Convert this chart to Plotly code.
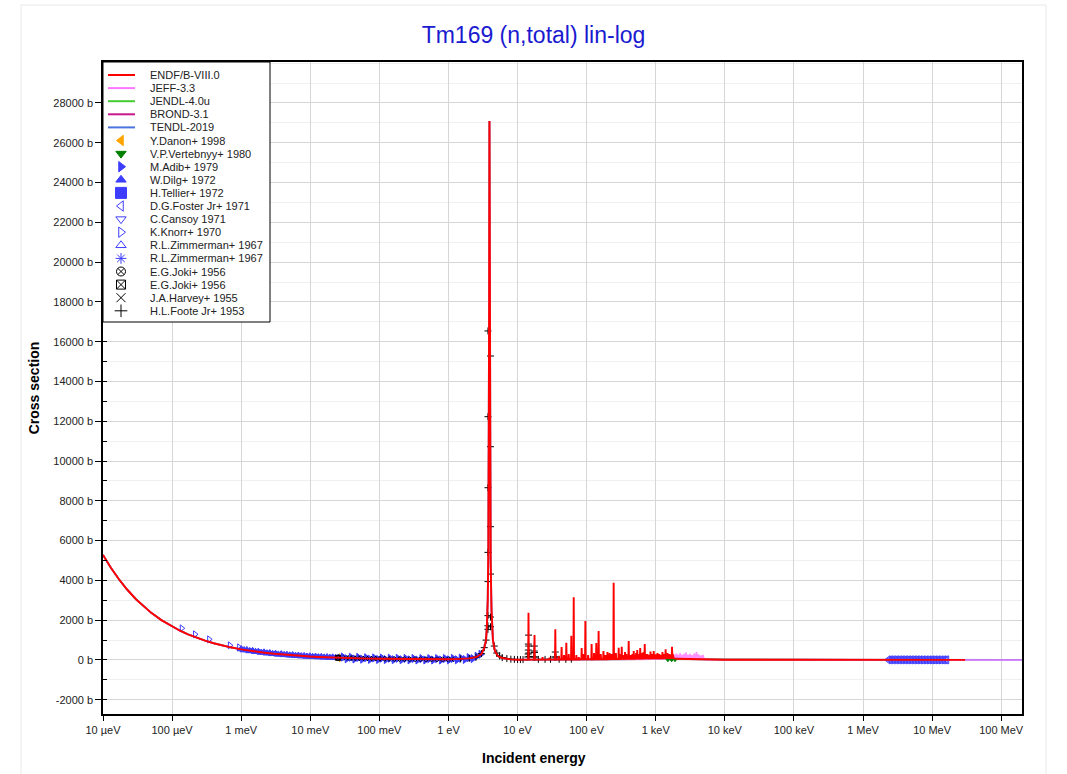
import plotly.graph_objects as go

# ---------------- evaluated libraries (energy in eV, cross section in b) ----------------
# thermal 1/v part and the big 3.9 eV resonance (all libraries coincide there)
thermal_e = [1e-5, 1.3e-5, 1.7e-5, 2.2e-5, 3e-5, 4e-5, 5e-5, 7e-5,
             1e-4, 1.3e-4, 1.7e-4, 2.2e-4, 3e-4, 4e-4, 5e-4, 7e-4,
             1e-3, 1.3e-3, 1.7e-3, 2.2e-3, 3e-3, 4e-3, 5e-3, 7e-3,
             1e-2, 1.3e-2, 1.7e-2, 2.2e-2, 3e-2, 4e-2, 5e-2, 7e-2,
             0.1, 0.2, 0.3, 0.5, 0.7, 1.0, 1.5, 2.0, 2.5, 3.0]
thermal_xs = [5280, 4640, 4058, 3568, 3056, 2648, 2369, 2003,
              1677, 1472, 1288, 1133, 971, 842, 754, 638,
              535, 470, 412, 363, 312, 271, 243, 207,
              174, 153, 135, 120, 103, 91, 82, 70,
              60, 44, 38, 33, 32, 40, 55, 80, 140, 300]

peak_e = [3.3, 3.5, 3.6, 3.7, 3.78, 3.84, 3.88, 3.92, 3.96, 4.0, 4.08, 4.2, 4.4, 4.7,
          5.2, 6.0, 8.0, 10.0, 13.0]
peak_xs = [600, 1000, 1700, 3000, 5500, 10000, 18000, 27100, 18000, 10000, 5000, 2500, 1000, 450,
           200, 100, 30, 15, 12]

# ENDF/B-VIII.0 resolved resonances 14 eV - 1.8 keV
endf_res_e = [
    14.26, 14.4, 14.54, 17.42, 17.6, 17.78, 22.8, 23.0, 23.2, 28.7, 29.0, 29.3,
    34.85, 35.2, 35.55, 39.1, 39.5, 39.9, 42.97, 43.4, 43.83, 46.5, 47.0, 47.5,
    50.3, 50.8, 51.3, 54.5, 55.0, 55.5, 59.4, 60.0, 60.6, 64.35, 65.0, 65.65,
    70.3, 71.0, 71.7, 76.2, 77.0, 77.8, 83.9, 84.7, 85.5, 89.1, 90.0, 90.9,
    94.9, 95.8, 96.7, 104.0, 105.0, 106.0, 116.8, 118.0, 119.2, 126.7, 128.0, 129.3,
    136.6, 138.0, 139.4, 147.5, 149.0, 150.5, 158.4, 160.0, 161.6, 173.3, 175.0, 176.7,
    185.1, 187.0, 188.9, 198.0, 200.0, 202.0, 212.9, 215.0, 217.1, 227.7, 230.0, 232.3,
    243.5, 246.0, 248.5, 262.4, 265.0, 267.6, 288.1, 291.0, 293.9, 302.0, 305.0, 308.0,
    318.8, 322.0, 325.2, 341.6, 345.0, 348.4, 356.4, 360.0, 363.6, 372.2, 376.0, 379.8,
    401.9, 406.0, 410.1, 425.7, 430.0, 434.3, 455.4, 460.0, 464.6, 475.2, 480.0, 484.8,
    495.0, 500.0, 505.0, 514.8, 520.0, 525.2, 534.6, 540.0, 545.4, 559.4, 565.0, 570.6,
    590.0, 596.0, 602.0, 608.9, 615.0, 621.2, 633.6, 640.0, 646.4, 658.4, 665.0, 671.7,
    686.1, 693.0, 699.9, 712.8, 720.0, 727.2, 752.4, 760.0, 767.6, 792.0, 800.0, 808.0,
    831.6, 840.0, 848.4, 871.2, 880.0, 888.8, 925.7, 935.0, 944.4, 990.0, 1000.0, 1010.0,
    1049.4, 1060.0, 1070.6, 1118.7, 1130.0, 1141.3, 1188.0, 1200.0, 1212.0, 1237.5, 1250.0, 1262.5,
    1287.0, 1300.0, 1313.0, 1376.1, 1390.0, 1403.9, 1425.6, 1440.0, 1454.4, 1465.2, 1480.0, 1494.8,
    1514.7, 1530.0, 1545.3, 1564.2, 1580.0, 1595.8, 1633.5, 1650.0, 1666.5, 1702.8, 1720.0, 1737.2,
    1742.4, 1760.0, 1777.6, 1782.0, 1800.0, 1818.0]
endf_res_xs = [
    20, 2370, 20, 20, 1250, 20, 20, 150, 20, 20, 120, 20,
    20, 1540, 20, 20, 200, 20, 20, 650, 20, 20, 250, 20,
    20, 870, 20, 25, 300, 25, 25, 1220, 25, 25, 3150, 25,
    25, 250, 25, 25, 150, 25, 30, 600, 30, 30, 300, 30,
    30, 1960, 30, 30, 250, 30, 30, 800, 30, 35, 350, 35,
    35, 850, 35, 35, 1460, 35, 40, 300, 40, 40, 450, 40,
    40, 250, 40, 40, 400, 40, 45, 350, 45, 45, 300, 45,
    45, 3880, 45, 50, 350, 50, 50, 620, 50, 50, 300, 50,
    55, 670, 55, 55, 250, 55, 60, 400, 60, 60, 300, 60,
    60, 950, 60, 60, 250, 60, 65, 300, 65, 65, 450, 65,
    65, 250, 65, 70, 350, 70, 70, 500, 70, 70, 300, 70,
    70, 600, 70, 75, 250, 75, 75, 350, 75, 75, 400, 75,
    80, 800, 80, 80, 300, 80, 80, 300, 80, 80, 250, 80,
    85, 420, 85, 85, 300, 85, 85, 450, 85, 90, 280, 90,
    90, 350, 90, 90, 300, 90, 90, 250, 90, 90, 400, 90,
    95, 300, 95, 95, 540, 95, 95, 250, 95, 95, 350, 95,
    95, 200, 95, 95, 300, 95, 95, 260, 95, 95, 670, 95,
    95, 300, 95, 95, 250, 95]
endf_hi_e = [2000, 1e4, 1e5, 1e6, 3e6, 1e7, 3e7]
endf_hi_xs = [60, 15, 10, 7, 6, 5.5, 5]

jeff_hi_e = [100.0, 1000.0,
             1850, 1900, 1950, 2000, 2060, 2120, 2180, 2250, 2320, 2400, 2480, 2560, 2650, 2740,
             2830, 2930, 3030, 3140, 3250, 3370, 3490, 3620, 3750, 3890, 4030, 4180, 4330, 4490,
             4650, 4820, 5000, 5200, 1e4, 1e5, 1e6, 1e7, 1e8, 2e8]
jeff_hi_xs = [20, 40,
              60, 280, 50, 320, 70, 250, 60, 350, 80, 260, 60, 300, 90, 380,
              70, 270, 60, 310, 80, 240, 70, 330, 60, 400, 80, 280, 60, 220,
              70, 250, 60, 20, 15, 10, 7, 5.5, 4.5, 4.3]

jendl_hi_e = [1e3, 1e5, 2e7]
jendl_hi_xs = [40, 10, 5.5]

brond_hi_e = [1e3, 1e5, 2e7]
brond_hi_xs = [40, 10, 5.5]

tendl_hi_e = [2000, 1e4, 1e5, 1e6, 1e7, 3e7, 1e8, 2e8]
tendl_hi_xs = [60, 15, 10, 7, 5.5, 5, 4.5, 4.3]

# ---------------- experimental data (EXFOR) ----------------
danon_e = [0.0253]
danon_xs = [115]

vertebnyy_e = [1500, 1700, 1900]
vertebnyy_xs = [15, 12, 18]

adib_e = [0.030, 0.034, 0.039, 0.044, 0.050, 0.057, 0.065, 0.074, 0.085, 0.097, 0.11, 0.125,
          0.143, 0.163, 0.186, 0.212, 0.242, 0.276, 0.315, 0.359, 0.41, 0.467, 0.533, 0.607,
          0.692, 0.79, 0.9, 1.03, 1.17, 1.34, 1.52, 1.74, 1.98, 2.26, 2.58, 2.94]
adib_xs = [150, 60, 140, 50, 130, 40, 115, 30, 105, 25, 95, 20,
           90, 15, 85, 10, 80, 5, 75, 0, 70, 0, 70, 0,
           70, 0, 75, 5, 80, 10, 95, 25, 120, 70, 190, 290]

dilg_e = [1.00e-3, 1.10e-3, 1.21e-3, 1.33e-3, 1.46e-3, 1.61e-3, 1.77e-3, 1.95e-3, 2.14e-3,
          2.36e-3, 2.59e-3, 2.85e-3, 3.14e-3, 3.45e-3, 3.80e-3, 4.18e-3, 4.59e-3, 5.05e-3,
          5.56e-3, 6.12e-3, 6.73e-3, 7.40e-3, 8.14e-3, 8.95e-3, 9.85e-3, 1.08e-2, 1.19e-2,
          1.31e-2, 1.44e-2, 1.59e-2, 1.75e-2, 1.92e-2, 2.11e-2, 2.32e-2, 2.56e-2, 2.81e-2]
dilg_xs = [550, 500, 505, 455, 460, 415, 420, 375, 385,
           340, 350, 310, 318, 282, 295, 258, 268, 235,
           245, 212, 225, 195, 205, 176, 188, 160, 172,
           146, 158, 132, 145, 122, 134, 110, 120, 100]

tellier_e = [0.0253, 0.05, 0.1, 0.5, 1.0, 2.0]
tellier_xs = [118, 85, 62, 35, 38, 78]

foster_e = [2.30e6, 2.42e6, 2.54e6, 2.67e6, 2.81e6, 2.96e6, 3.11e6, 3.27e6, 3.44e6, 3.62e6,
            3.80e6, 4.00e6, 4.20e6, 4.42e6, 4.65e6, 4.89e6, 5.14e6, 5.41e6, 5.69e6, 5.98e6,
            6.29e6, 6.61e6, 6.95e6, 7.31e6, 7.69e6, 8.09e6, 8.50e6, 8.94e6, 9.40e6, 9.89e6,
            10.4e6, 10.9e6, 11.5e6, 12.1e6, 12.7e6, 13.4e6, 14.1e6, 14.8e6, 15.6e6, 16.4e6]
foster_xs = [7.6, 7.6, 7.5, 7.4, 7.3, 7.2, 7.1, 7.0, 7.0, 6.9,
             6.9, 6.8, 6.8, 6.7, 6.7, 6.6, 6.6, 6.5, 6.4, 6.4,
             6.3, 6.3, 6.2, 6.2, 6.1, 6.1, 6.0, 6.0, 5.9, 5.9,
             5.8, 5.8, 5.8, 5.7, 5.7, 5.7, 5.6, 5.6, 5.6, 5.6]

cansoy_e = [0.005, 0.01, 0.02, 0.04, 0.08, 0.15, 0.3, 0.6, 1.2]
cansoy_xs = [250, 180, 130, 95, 70, 50, 40, 32, 38]

knorr_e = [1.38e-4, 2.15e-4, 3.44e-4, 6.86e-4, 9.35e-4]
knorr_xs = [1594, 1292, 1040, 739, 639]

zimm1_e = [0.0015, 0.003, 0.006, 0.012]
zimm1_xs = [440, 320, 230, 165]

zimm2_e = [0.0253, 0.04, 0.07]
zimm2_xs = [110, 92, 70]

joki1_e = [0.0253]
joki1_xs = [115]

joki2_e = [0.0253]
joki2_xs = [110]

harvey_e = [0.033, 0.037, 0.042, 0.048, 0.055, 0.063, 0.072, 0.083, 0.095, 0.11, 0.13, 0.15,
            0.18, 0.21, 0.25, 0.3, 0.36, 0.43, 0.52, 0.62, 0.75, 0.9, 1.1]
harvey_xs = [110, 102, 96, 90, 84, 78, 73, 68, 64, 60, 55, 51,
             47, 44, 41, 38, 36, 34, 33, 32, 31, 32, 35]

foote_e = [1.5, 2.0, 2.5, 3.0, 3.3, 3.5,
           3.73, 3.73, 3.73, 3.73, 3.73, 3.73, 3.73, 3.73,
           4.06, 4.06, 4.06, 4.06, 4.06, 4.06,
           4.6, 5.0, 5.5, 6.0, 7.0, 8.0, 9.0, 10.0, 11.0, 12.0,
           14.1, 14.2, 14.3, 14.35, 14.4, 14.5, 14.6, 14.7,
           17.2, 17.4, 17.5, 17.6, 17.8, 20.0, 25.0, 30.0, 34.5, 35.2, 36.0, 40.0, 50.0, 60.0]
foote_xs = [55, 80, 140, 320, 620, 1000,
            1540, 1720, 2230, 3940, 5410, 8660, 12230, 16540,
            1670, 2160, 4320, 6700, 10720, 15280,
            700, 350, 200, 120, 70, 40, 30, 25, 20, 18,
            150, 300, 500, 800, 1250, 700, 350, 180,
            150, 450, 700, 380, 150, 30, 30, 35, 150, 400, 150, 35, 30, 40]

x_tick_vals = [1e-5, 1e-4, 1e-3, 1e-2, 1e-1, 1e0, 1e1, 1e2, 1e3, 1e4, 1e5, 1e6, 1e7, 1e8]
x_tick_text = ['10 µeV', '100 µeV', '1 meV', '10 meV', '100 meV', '1 eV', '10 eV', '100 eV',
               '1 keV', '10 keV', '100 keV', '1 MeV', '10 MeV', '100 MeV']
y_tick_vals = [-2000, 0, 2000, 4000, 6000, 8000, 10000, 12000, 14000, 16000, 18000,
               20000, 22000, 24000, 26000, 28000]
y_tick_text = ['-2000 b', '0 b', '2000 b', '4000 b', '6000 b', '8000 b', '10000 b', '12000 b',
               '14000 b', '16000 b', '18000 b', '20000 b', '22000 b', '24000 b', '26000 b', '28000 b']

low_e = thermal_e + peak_e
low_xs = thermal_xs + peak_xs

BLUE = '#3d3dff'
libs = [
    ('ENDF/B-VIII.0', low_e + endf_res_e + endf_hi_e, low_xs + endf_res_xs + endf_hi_xs, '#ff0000', 1.9),
    ('JEFF-3.3', low_e + jeff_hi_e, low_xs + jeff_hi_xs, '#ff77ff', 1.5),
    ('JENDL-4.0u', low_e + jendl_hi_e, low_xs + jendl_hi_xs, '#44cc33', 1.4),
    ('BROND-3.1', low_e + brond_hi_e, low_xs + brond_hi_xs, '#c8188c', 1.4),
    ('TENDL-2019', low_e + tendl_hi_e, low_xs + tendl_hi_xs, '#4a74e0', 1.9),
]
exps = [
    ('Y.Danon+ 1998', danon_e, danon_xs, 'triangle-left', '#ffa500', 7),
    ('V.P.Vertebnyy+ 1980', vertebnyy_e, vertebnyy_xs, 'triangle-down', '#008000', 4),
    ('M.Adib+ 1979', adib_e, adib_xs, 'triangle-right', BLUE, 7),
    ('W.Dilg+ 1972', dilg_e, dilg_xs, 'triangle-up', BLUE, 7),
    ('H.Tellier+ 1972', tellier_e, tellier_xs, 'square', BLUE, 4),
    ('D.G.Foster Jr+ 1971', foster_e, foster_xs, 'triangle-left-open', BLUE, 7),
    ('C.Cansoy 1971', cansoy_e, cansoy_xs, 'triangle-down-open', BLUE, 5),
    ('K.Knorr+ 1970', knorr_e, knorr_xs, 'triangle-right-open', BLUE, 6),
    ('R.L.Zimmerman+ 1967', zimm1_e, zimm1_xs, 'triangle-up-open', BLUE, 5),
    ('R.L.Zimmerman+ 1967', zimm2_e, zimm2_xs, 'asterisk-open', BLUE, 5),
    ('E.G.Joki+ 1956', joki1_e, joki1_xs, 'circle-x-open', 'black', 5),
    ('E.G.Joki+ 1956', joki2_e, joki2_xs, 'square-x-open', 'black', 5),
    ('J.A.Harvey+ 1955', harvey_e, harvey_xs, 'x-thin-open', 'black', 5),
    ('H.L.Foote Jr+ 1953', foote_e, foote_xs, 'cross-thin-open', 'black', 5),
]

fig = go.Figure()

# libraries other than ENDF underneath
for name, e, xs, c, w in libs[:0:-1]:
    fig.add_trace(go.Scatter(x=e, y=xs, mode='lines', name=name, opacity=0.8,
                             line=dict(color=c, width=w), showlegend=False))
for name, e, xs, sym, c, s in exps:
    fig.add_trace(go.Scatter(x=e, y=xs, mode='markers', name=name, showlegend=False,
                             marker=dict(symbol=sym, size=s, color=c, line=dict(color=c, width=1))))
name, e, xs, c, w = libs[0]
fig.add_trace(go.Scatter(x=e, y=xs, mode='lines', name=name, showlegend=False,
                         line=dict(color=c, width=w)))

# ---------------- hand-made compact legend box ----------------
LW, LH = 167, 260
fig.add_trace(go.Scatter(x=[0, LW, LW, 0, 0], y=[0, 0, LH, LH, 0], xaxis='x2', yaxis='y2',
                         mode='lines', fill='toself', fillcolor='white',
                         line=dict(color='white', width=0), hoverinfo='skip', showlegend=False))
row_h = 13.1
annots = []
entries = [(n, 'line', c) for n, _, _, c, _ in libs] + [(n, sym, c) for n, _, _, sym, c, _ in exps]
for i, (n, kind, c) in enumerate(entries):
    yy = 13 + row_h * i
    if kind == 'line':
        fig.add_trace(go.Scatter(x=[5, 32], y=[yy, yy], xaxis='x2', yaxis='y2', mode='lines',
                                 line=dict(color=c, width=2), hoverinfo='skip', showlegend=False))
    else:
        big = 11 if kind == 'square' else 9
        fig.add_trace(go.Scatter(x=[18], y=[yy], xaxis='x2', yaxis='y2', mode='markers',
                                 marker=dict(symbol=kind, size=big, color=c, line=dict(color=c, width=1)),
                                 hoverinfo='skip', showlegend=False))
    annots.append(dict(x=45, y=yy, xref='x2', yref='y2', text=n, showarrow=False,
                       xanchor='left', yanchor='middle',
                       font=dict(family='Liberation Sans, Arial', size=11, color='#222')))

L, R, T, B = 103, 45, 62, 60
W, H = 1067, 774
pw, ph = W - L - R, H - T - B

# x axis title is centred on the page, not on the plot
annots.append(dict(x=(W / 2 - L) / pw, y=(T + ph - 758) / ph, xref='paper', yref='paper',
                   text='<b>Incident energy</b>', showarrow=False, xanchor='center', yanchor='middle',
                   font=dict(family='Liberation Sans, Arial', size=14, color='black')))

fig.update_layout(
    width=W, height=H, margin=dict(l=L, r=R, t=T, b=B),
    paper_bgcolor='white', plot_bgcolor='white', showlegend=False,
    font=dict(family='Liberation Sans, Arial', size=11, color='#222'),
    title=dict(text='Tm169 (n,total) lin-log', x=0.5, xref='container', xanchor='center',
               y=1 - 35 / H, yref='container', yanchor='middle',
               font=dict(size=23, color='#1a1ad0')),
    xaxis=dict(type='log', range=[-5, 8.301], tickvals=x_tick_vals, ticktext=x_tick_text,
               ticks='outside', ticklen=5, tickcolor='black', showline=True, linecolor='black',
               linewidth=1.5, mirror=True, gridcolor='#d6d6d6', zeroline=False),
    yaxis=dict(range=[-2715, 30060], tickvals=y_tick_vals, ticktext=y_tick_text,
               ticks='outside', ticklen=6, tickcolor='black', showline=True, linecolor='black',
               linewidth=1.5, mirror=True, gridcolor='#d6d6d6', zeroline=False,
               minor=dict(dtick=1000, tick0=0, showgrid=True, gridcolor='#f0f0f0',
                          ticks='inside', ticklen=4, tickcolor='black'),
               title=dict(text='<b>Cross section</b>', font=dict(size=14, color='black'), standoff=10)),
    xaxis2=dict(domain=[0, LW / pw], range=[0, LW], visible=False, anchor='y2', fixedrange=True),
    yaxis2=dict(domain=[1 - LH / ph, 1], range=[LH, 0], visible=False, anchor='x2', fixedrange=True),
    annotations=annots,
    shapes=[
        dict(type='rect', xref='paper', yref='paper', x0=0, x1=LW / pw, y0=1 - LH / ph, y1=1,
             line=dict(color='black', width=1), layer='above'),
        dict(type='rect', xref='paper', yref='paper', x0=(21 - L) / pw, x1=(1046 - L) / pw,
             y0=-(B + 5) / ph, y1=1 + (T - 5) / ph, line=dict(color='#e8e8e8', width=1), layer='below'),
    ],
)

fig.write_html("out.html", config={'displayModeBar': False},
               post_script="document.body.style.margin='0';document.body.style.overflow='hidden';")
